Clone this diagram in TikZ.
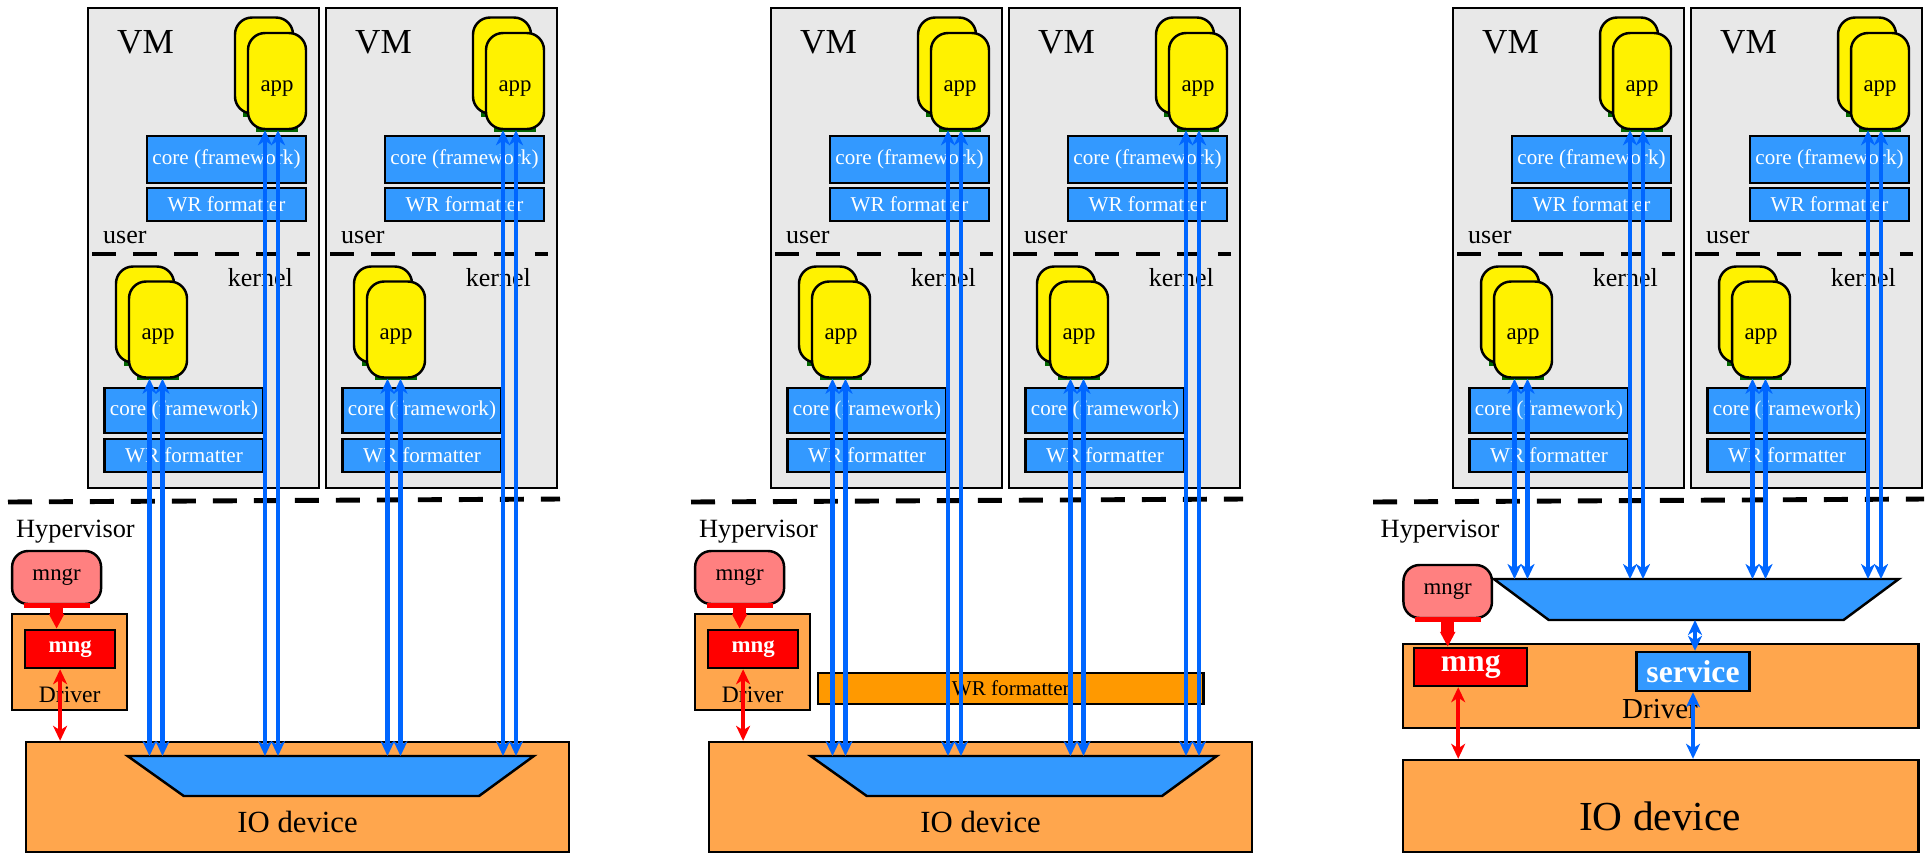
\documentclass[tikz,border=0pt]{standalone}
\usepackage{fontspec}
\setmainfont{Liberation Serif}
\usetikzlibrary{arrows.meta}

\definecolor{vmgray}{HTML}{E8E8E8}
\definecolor{boxblue}{HTML}{3399FF}
\definecolor{linkblue}{HTML}{0066FF}
\definecolor{drvorange}{HTML}{FFA64D}
\definecolor{fmtorange}{HTML}{FF9900}
\definecolor{mngrpink}{HTML}{FF8080}
\definecolor{appgreen}{HTML}{006600}

\begin{document}
\begin{tikzpicture}[x=0.02cm, y=-0.02cm,
    vmbox/.style={draw, line width=1.4pt, fill=vmgray, anchor=north west, inner sep=0pt},
    layerbox/.style={draw, line width=1.4pt, fill=boxblue, text=white, inner sep=0pt, font=\fontsize{12}{14}\selectfont},
    appbox/.style={draw, line width=1.4pt, fill=yellow, rounded corners=0.34cm, minimum width=1.16cm, minimum height=1.92cm, inner sep=0pt, text height=12pt, text depth=0.6pt, font=\fontsize{13}{15}\selectfont},
    drvbox/.style={draw, line width=1.4pt, fill=drvorange, inner sep=0pt},
    mngrbox/.style={draw, line width=1.4pt, fill=mngrpink, rounded corners=0.32cm, inner sep=0pt, font=\fontsize{13}{15}\selectfont},
    mngbox/.style={draw, line width=1.4pt, fill=red, text=white, inner sep=0pt, font=\bfseries\fontsize{13}{15}\selectfont},
    trapfill/.style={draw, line width=1.4pt, fill=boxblue},
    split/.style={line width=2.4pt, dash pattern=on 0.48cm off 0.34cm},
    duplex/.style={linkblue, line width=2.4pt, <->, >={Stealth[length=0.3cm, width=0.28cm, inset=0.09cm]}},
    ctrl/.style={red, line width=2.4pt, <->, >={Stealth[length=0.3cm, width=0.28cm, inset=0.09cm]}},
    plug/.style={red, line width=0.27cm, -{Triangle[length=0.3cm 0 0, width=0.29cm 0 0]}}]
\useasboundingbox (0,0) rectangle (1927,853);

% virtual machines
\foreach \x [count=\i] in {87, 325, 770, 1008, 1452, 1690} {
  \node[vmbox, minimum width=4.62cm, minimum height=9.6cm] (vm\i) at (\x,7) {};
  \node[anchor=base west, font=\fontsize{20}{22}\selectfont] (vmlab\i) at (\x+24, 53) {VM};
  % user space
  \fill[appgreen] (\x+156, 103) rectangle (\x+198, 117);
  \node[appbox] (ub\i) at (\x+177, 65.5) {};
  \fill[appgreen] (\x+169, 119) rectangle (\x+211, 132);
  \node[appbox] (ua\i) at (\x+190, 81) {app};
  \node[layerbox, minimum width=3.18cm, minimum height=0.94cm] (uc\i) at (\x+139.5, 159.5) {core (framework)};
  \node[layerbox, minimum width=3.18cm, minimum height=0.66cm] (uw\i) at (\x+139.5, 204.5) {WR formatter};
  \node[anchor=base west, font=\fontsize{14.8}{16}\selectfont] (ul\i) at (\x+10, 243) {user};
  \draw[split] (\x+5, 254) -- (\x+223, 254);
  \node[anchor=base east, font=\fontsize{14.8}{16}\selectfont] (kl\i) at (\x+212, 286) {kernel};
  % kernel space
  \fill[appgreen] (\x+37, 352) rectangle (\x+79, 366);
  \node[appbox] (kb\i) at (\x+58, 314.5) {};
  \fill[appgreen] (\x+50, 367) rectangle (\x+92, 380);
  \node[appbox] (ka\i) at (\x+71, 329.5) {app};
  \node[layerbox, minimum width=3.18cm, minimum height=0.9cm] (kc\i) at (\x+97, 410.5) {core (framework)};
  \node[layerbox, minimum width=3.18cm, minimum height=0.66cm] (kw\i) at (\x+97, 455.5) {WR formatter};
}

% hypervisor, driver and device (first two setups)
\foreach \p/\j in {0/1, 683/2} {
  \draw[split, line width=2.8pt] (\p+8, 502) -- (\p+560, 499);
  \node[anchor=base west, font=\fontsize{15}{17}\selectfont] (hyp\j) at (\p+10, 537) {Hypervisor};
  \node[mngrbox, minimum width=1.78cm, minimum height=1.06cm] (mngr\j) at (\p+56.6, 577.5) {mngr};
  \node[drvbox, minimum width=2.29cm, minimum height=1.92cm] (drv\j) at (\p+69.5, 662) {};
  \node[anchor=base, font=\fontsize{13.4}{15}\selectfont] (drvlab\j) at (\p+69.7, 702) {Driver};
  \node[mngbox, minimum width=1.8cm, minimum height=0.76cm] (mng\j) at (\p+70.1, 649) {mng};
  \node[drvbox, minimum width=10.86cm, minimum height=2.2cm] (io\j) at (\p+297.4, 797) {};
  \node[anchor=base, font=\fontsize{17.5}{19}\selectfont] (iolab\j) at (\p+297.6, 832) {IO device};
  \draw[trapfill] (\p+127.6, 756) -- (\p+533.8, 756) -- (\p+479, 796) -- (\p+183.8, 796) -- cycle;
  \coordinate (trap\j) at (\p+330.7, 756);
  % manager link
  \draw[red, line width=0.1cm] ([xshift=0.26cm]mngr\j.south west) -- ([xshift=-0.24cm]mngr\j.south east);
  \draw[plug] (mngr\j.south) -- (mngr\j.south |- mng\j.north);
  \path ([xshift=-0.2cm]mng\j.south) coordinate (mngl\j);
  \draw[ctrl] (mngl\j) -- (mngl\j |- io\j.north);
}

% shared formatter in the hypervisor
\node[draw, line width=1.4pt, fill=fmtorange, inner sep=0pt, minimum width=7.71cm, minimum height=0.62cm, font=\fontsize{12}{14}\selectfont] (fmt2) at (1010.8, 688.5) {WR formatter};

% third setup: service in the driver
\draw[split, line width=2.8pt] (1373, 502) -- (1924, 499);
\node[anchor=base west, font=\fontsize{15}{17}\selectfont] (hyp3) at (1374.5, 537) {Hypervisor};
\node[mngrbox, minimum width=1.77cm, minimum height=1.06cm] (mngr3) at (1447.7, 591.5) {mngr};
\draw[trapfill] (1493.8, 579) -- (1898.8, 579) -- (1843.5, 620) -- (1548.8, 620) -- cycle;
\coordinate (trap3) at (1696.3, 579);
\coordinate (trapb3) at (1695, 620);
\node[drvbox, minimum width=10.32cm, minimum height=1.68cm] (drv3) at (1660.7, 686) {};
\node[anchor=base, font=\fontsize{16.5}{18}\selectfont] (drvlab3) at (1660, 718) {Driver};
\node[mngbox, font=\bfseries\fontsize{18}{20}\selectfont, minimum width=2.26cm, minimum height=0.76cm] (mng3) at (1470.7, 667) {mng};
\node[layerbox, font=\bfseries\fontsize{18}{20}\selectfont, minimum width=2.26cm, minimum height=0.78cm] (svc3) at (1693, 671.5) {service};
\node[drvbox, minimum width=10.32cm, minimum height=1.84cm] (io3) at (1660.7, 806) {};
\node[anchor=base, font=\fontsize{23.5}{26}\selectfont] (iolab3) at (1660, 830) {IO device};
\draw[red, line width=0.1cm] ([xshift=0.25cm]mngr3.south west) -- ([xshift=-0.25cm]mngr3.south east);
\draw[plug] (mngr3.south) -- (mngr3.south |- mng3.north);
\path ([xshift=-0.25cm]mng3.south) coordinate (mngl3);
\draw[ctrl] (mngl3) -- (mngl3 |- io3.north);
\draw[duplex] (trapb3) -- (trapb3 |- svc3.north);
\draw[duplex] (svc3.south) -- (svc3.south |- io3.north);

% data paths from the apps down to the device
\foreach \i/\t in {1/1, 2/1, 3/2, 4/2, 5/3, 6/3} {
  \path ([xshift=-0.24cm]ua\i.south) coordinate (ual\i)
        ([xshift=0.02cm]ua\i.south) coordinate (uar\i)
        ([xshift=-0.17cm]ka\i.south) coordinate (kal\i)
        ([xshift=0.09cm]ka\i.south) coordinate (kar\i);
  \draw[duplex] (ual\i) -- (ual\i |- trap\t);
  \draw[duplex] (uar\i) -- (uar\i |- trap\t);
  \draw[duplex] (kal\i) -- (kal\i |- trap\t);
  \draw[duplex] (kar\i) -- (kar\i |- trap\t);
}
\end{tikzpicture}
\end{document}
